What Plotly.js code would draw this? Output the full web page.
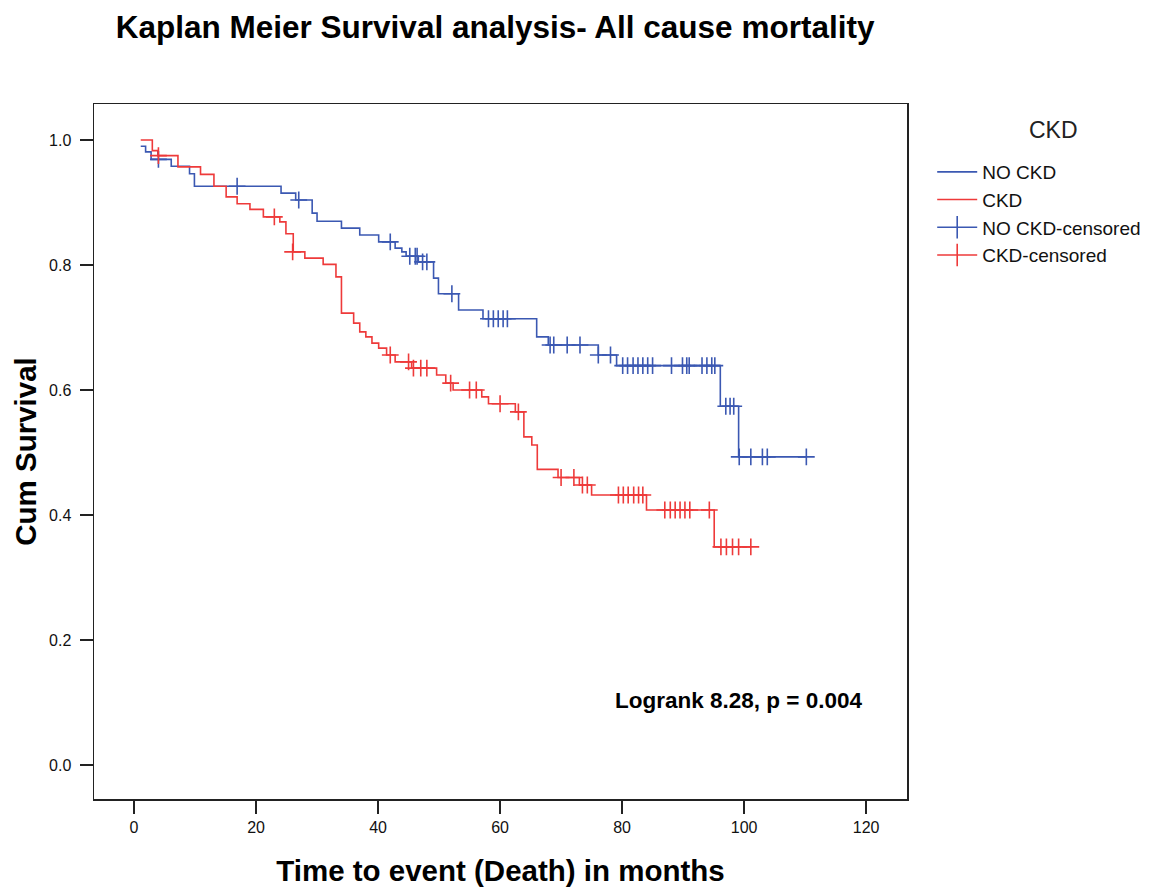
<!DOCTYPE html>
<html>
<head>
<meta charset="utf-8">
<script src="https://cdn.plot.ly/plotly-3.0.1.min.js"></script>
<style>html,body{margin:0;padding:0;background:#fff;}</style>
</head>
<body>
<div id="chart" style="width:1176px;height:896px;"></div>
<script>
// ---- Data ----
const NC_time = [1.1, 1.9, 2.8, 6.1, 9.1, 9.9, 24.1, 26.5, 29.2, 30.0, 34.0, 37.0, 40.1, 42.8, 43.9, 44.6, 46.6, 49.1, 49.9, 53.2, 57.2, 66.0, 67.9, 76.1, 79.1, 96.1, 99.1, 110.2];
const NC_surv = [0.990, 0.981, 0.969, 0.958, 0.946, 0.926, 0.915, 0.904, 0.883, 0.870, 0.859, 0.848, 0.837, 0.827, 0.821, 0.814, 0.805, 0.779, 0.754, 0.728, 0.714, 0.685, 0.672, 0.656, 0.639, 0.574, 0.493, 0.493];

const NC_cens_time = [4.0, 16.9, 27.0, 42.0, 45.2, 46.1, 46.4, 47.3, 48.0, 52.1, 58.1, 58.9, 59.7, 60.5, 61.2, 68.2, 68.8, 71.0, 73.1, 76.1, 78.1, 80.1, 80.9, 81.8, 82.6, 83.4, 84.2, 85.0, 88.1, 89.9, 90.6, 91.0, 93.1, 93.9, 94.7, 95.2, 97.0, 97.7, 98.3, 99.2, 101.1, 103.0, 103.8, 110.2];
const NC_cens_surv = [0.969, 0.926, 0.904, 0.837, 0.814, 0.814, 0.814, 0.805, 0.805, 0.754, 0.714, 0.714, 0.714, 0.714, 0.714, 0.672, 0.672, 0.672, 0.672, 0.656, 0.656, 0.639, 0.639, 0.639, 0.639, 0.639, 0.639, 0.639, 0.639, 0.639, 0.639, 0.639, 0.639, 0.639, 0.639, 0.639, 0.574, 0.574, 0.574, 0.493, 0.493, 0.493, 0.493, 0.493];

const CKD_time = [1.1, 3.0, 3.9, 7.2, 10.9, 13.1, 15.1, 16.9, 19.0, 21.2, 23.9, 24.9, 26.1, 28.0, 31.0, 33.1, 34.0, 36.0, 37.0, 38.0, 39.0, 40.1, 41.4, 42.8, 45.5, 49.6, 51.1, 52.3, 57.0, 58.1, 62.5, 63.9, 65.2, 66.1, 69.5, 73.0, 75.0, 84.0, 95.1, 101.1];
const CKD_surv = [1.000, 0.983, 0.975, 0.957, 0.945, 0.926, 0.909, 0.898, 0.889, 0.877, 0.869, 0.850, 0.821, 0.811, 0.801, 0.781, 0.723, 0.707, 0.693, 0.685, 0.675, 0.667, 0.656, 0.645, 0.635, 0.624, 0.611, 0.600, 0.589, 0.578, 0.565, 0.525, 0.512, 0.473, 0.460, 0.448, 0.432, 0.408, 0.349, 0.349];

const CKD_cens_time = [4.0, 23.0, 26.0, 42.0, 45.0, 45.8, 47.0, 48.0, 51.9, 55.0, 56.1, 60.0, 63.0, 70.0, 72.1, 73.5, 74.3, 79.4, 80.2, 81.0, 81.9, 82.7, 83.4, 87.0, 87.9, 88.7, 89.5, 90.3, 91.1, 94.3, 96.2, 97.1, 98.1, 99.1, 101.1];
const CKD_cens_surv = [0.975, 0.877, 0.821, 0.656, 0.645, 0.635, 0.635, 0.635, 0.611, 0.600, 0.600, 0.578, 0.565, 0.460, 0.460, 0.448, 0.448, 0.432, 0.432, 0.432, 0.432, 0.432, 0.432, 0.408, 0.408, 0.408, 0.408, 0.408, 0.408, 0.408, 0.349, 0.349, 0.349, 0.349, 0.349];

const seriesNames = ["NO CKD", "CKD", "NO CKD-censored", "CKD-censored"];
const legendTitle = "CKD";
const xTicks = [0, 20, 40, 60, 80, 100, 120];
const yTicks = [0.0, 0.2, 0.4, 0.6, 0.8, 1.0];

const BLUE = "#3b58b2";
const RED = "#ee3a3a";
const FONT = "Liberation Sans, Arial, sans-serif";

const traces = [
  {x: NC_time, y: NC_surv, mode: "lines", line: {shape: "hv", color: BLUE, width: 1.6}, name: seriesNames[0], showlegend: true},
  {x: CKD_time, y: CKD_surv, mode: "lines", line: {shape: "hv", color: RED, width: 1.6}, name: seriesNames[1], showlegend: true},
  {x: NC_cens_time, y: NC_cens_surv, mode: "markers", name: seriesNames[2], showlegend: false,
   marker: {symbol: "cross-thin-open", size: 12, color: BLUE, line: {color: BLUE, width: 1.6}}},
  {x: CKD_cens_time, y: CKD_cens_surv, mode: "markers", name: seriesNames[3], showlegend: false,
   marker: {symbol: "cross-thin-open", size: 12, color: RED, line: {color: RED, width: 1.6}}},
  // legend entries for the censor marks (line with cross)
  {x: [null], y: [null], mode: "lines+markers", name: seriesNames[2], showlegend: true,
   line: {color: BLUE, width: 1.6}, marker: {symbol: "line-ns-open", size: 16, color: BLUE, line: {color: BLUE, width: 1.6}}},
  {x: [null], y: [null], mode: "lines+markers", name: seriesNames[3], showlegend: true,
   line: {color: RED, width: 1.6}, marker: {symbol: "line-ns-open", size: 16, color: RED, line: {color: RED, width: 1.6}}}
];

const axisCommon = {
  showline: true, mirror: true, linecolor: "#222", linewidth: 1.5,
  ticks: "outside", ticklen: 13, tickwidth: 1.5, tickcolor: "#222",
  showgrid: false, zeroline: false,
  tickfont: {family: FONT, size: 16, color: "#111"}
};

const layout = {
  width: 1176, height: 896,
  paper_bgcolor: "#fff", plot_bgcolor: "#fff",
  margin: {l: 94, r: 269, t: 104, b: 97},
  font: {family: FONT, color: "#000"},
  title: {text: "<b>Kaplan Meier Survival analysis- All cause mortality</b>",
          font: {family: FONT, size: 31.5, color: "#000"},
          xref: "container", x: 0.421, xanchor: "center",
          yref: "container", y: 0.97, yanchor: "middle"},
  xaxis: Object.assign({}, axisCommon, {
    range: [-6.56, 126.7], tickvals: xTicks, ticktext: xTicks.map(String),
    title: {text: "<b>Time to event (Death) in months</b>", font: {family: FONT, size: 29.5, color: "#000"}, standoff: 25}
  }),
  yaxis: Object.assign({}, axisCommon, {
    range: [-0.0544, 1.0576], tickvals: yTicks, ticktext: yTicks.map(v => v.toFixed(1)),
    ticklabelstandoff: 5,
    title: {text: "<b>Cum Survival</b>", font: {family: FONT, size: 29.5, color: "#000"}, standoff: 3}
  }),
  legend: {
    x: 1.031, y: 0.9295, xanchor: "left", yanchor: "top",
    bgcolor: "rgba(0,0,0,0)", borderwidth: 0,
    font: {family: FONT, size: 19, color: "#111"},
    itemwidth: 40, tracegroupgap: 0
  },
  annotations: [
    {text: "<b>Logrank 8.28, p = 0.004</b>", xref: "x", yref: "y", x: 99.0, y: 0.104,
     showarrow: false, font: {family: FONT, size: 22.5, color: "#000"}, xanchor: "center", yanchor: "middle"},
    {text: legendTitle, xref: "paper", yref: "paper", x: 1.18, y: 1 - (130 - 104) / 695,
     showarrow: false, font: {family: FONT, size: 23, color: "#222"}, xanchor: "center", yanchor: "middle"}
  ]
};

Plotly.newPlot("chart", traces, layout, {displayModeBar: false, staticPlot: true});
</script>
</body>
</html>
